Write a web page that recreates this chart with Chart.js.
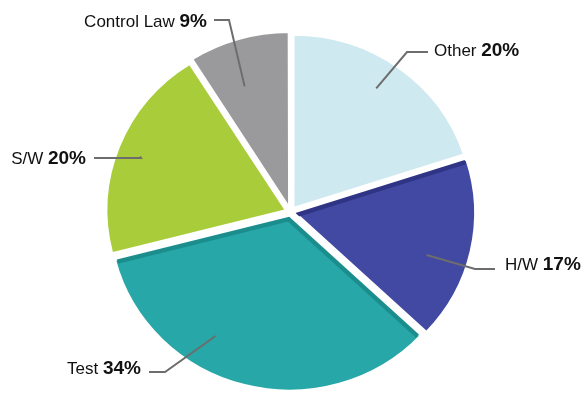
<!DOCTYPE html>
<html>
<head>
<meta charset="utf-8">
<title>Effort by area</title>
<script src="https://cdn.jsdelivr.net/npm/chart.js@4.4.1/dist/chart.umd.min.js"></script>
<style>
  html, body { margin: 0; padding: 0; background: #fff; }
  #wrap { width: 581px; height: 395px; }
</style>
</head>
<body>
<div id="wrap"><canvas id="pieChart" width="581" height="395"></canvas></div>
<script>
// data
const categories = ['Other', 'H/W', 'Test', 'S/W', 'Control Law'];
const shares = [20, 17, 34, 20, 9];
const sliceColors = ['#cfe9f0', '#4249a2', '#27a7a7', '#a8cc3a', '#9a9a9c'];

// darker bevel along slice edges: [start edge, end edge], null = none
const edgeShades = [
    [null, null],
    ['#2f3485', null],
    ['#1c8d8d', '#1c8d8d'],
    [null, null],
    [null, null]
];

// where each callout sits: point inside the slice (angle fraction, radius fraction),
// elbow of the leader line, end of the line, and the text anchor
const callouts = [
    { t: 0.47, r: 0.86, elbow: [407, 52], end: [428, 52], text: [434, 51], align: 'left' },
    { t: 0.59, r: 0.80, elbow: [475, 269], end: [495, 269], text: [505, 265], align: 'left' },
    { t: 0.63, r: 0.83, elbow: [165, 372], end: [149, 372], text: [141, 369], align: 'right' },
    { t: 0.49, r: 0.90, elbow: [141, 158], end: [94, 158], text: [86, 159], align: 'right' },
    { t: 0.40, r: 0.77, elbow: [229, 20], end: [214, 20], text: [207, 22], align: 'right' }
];

const SLICE_OFFSET = 20; // chart.js arcs move offset/4 px
const STRETCH_X = 1.017; // pie is a touch wider than tall
const STRETCH_Y = 0.983;

function pieCenter(chart) {
    const a = chart.getDatasetMeta(0).data[0];
    return [a.x, a.y];
}

// stretches the pie and adds a shaded strip on some slice edges
const pieShapePlugin = {
    id: 'pieShape',
    beforeDatasetsDraw(chart) {
        const ctx = chart.ctx;
        const [cx, cy] = pieCenter(chart);
        ctx.save();
        ctx.translate(cx, cy);
        ctx.scale(STRETCH_X, STRETCH_Y);
        ctx.translate(-cx, -cy);
    },
    afterDatasetsDraw(chart) {
        const ctx = chart.ctx;
        chart.getDatasetMeta(0).data.forEach((arc, i) => {
            const p = arc.getProps(['x', 'y', 'startAngle', 'endAngle', 'outerRadius']);
            const mid = (p.startAngle + p.endAngle) / 2;
            const off = SLICE_OFFSET / 4;
            const cx = p.x + Math.cos(mid) * off;
            const cy = p.y + Math.sin(mid) * off;
            const r = p.outerRadius - 1;
            ctx.save();
            ctx.beginPath();
            ctx.moveTo(cx, cy);
            ctx.arc(cx, cy, r, p.startAngle, p.endAngle);
            ctx.closePath();
            ctx.clip();
            [p.startAngle, p.endAngle].forEach((ang, k) => {
                const col = edgeShades[i][k];
                if (!col) return;
                ctx.strokeStyle = col;
                ctx.lineWidth = 9;
                ctx.beginPath();
                ctx.moveTo(cx, cy);
                ctx.lineTo(cx + Math.cos(ang) * (r + 10), cy + Math.sin(ang) * (r + 10));
                ctx.stroke();
            });
            ctx.restore();
        });
        ctx.restore();
    }
};

// draws the leader lines and "Name NN%" labels
const calloutPlugin = {
    id: 'callouts',
    afterDraw(chart) {
        const ctx = chart.ctx;
        const arcs = chart.getDatasetMeta(0).data;
        ctx.save();
        arcs.forEach((arc, i) => {
            const c = callouts[i];
            const p = arc.getProps(['x', 'y', 'startAngle', 'endAngle', 'outerRadius']);
            const a = p.startAngle + (p.endAngle - p.startAngle) * c.t;
            const ax = p.x + Math.cos(a) * p.outerRadius * c.r * STRETCH_X;
            const ay = p.y + Math.sin(a) * p.outerRadius * c.r * STRETCH_Y;

            ctx.strokeStyle = '#6d6d6d';
            ctx.lineWidth = 2;
            ctx.beginPath();
            ctx.moveTo(ax, ay);
            ctx.lineTo(c.elbow[0], c.elbow[1]);
            ctx.lineTo(c.end[0], c.end[1]);
            ctx.stroke();

            const name = categories[i] + ' ';
            const pct = shares[i] + '%';
            ctx.textBaseline = 'middle';
            ctx.fillStyle = '#111';
            ctx.font = '17px "Liberation Sans", Arial, sans-serif';
            const wName = ctx.measureText(name).width;
            ctx.font = 'bold 19px "Liberation Sans", Arial, sans-serif';
            const wPct = ctx.measureText(pct).width;
            let x = c.text[0];
            if (c.align === 'right') x -= wName + wPct;
            ctx.textAlign = 'left';
            ctx.font = '17px "Liberation Sans", Arial, sans-serif';
            ctx.fillText(name, x, c.text[1]);
            ctx.font = 'bold 19px "Liberation Sans", Arial, sans-serif';
            ctx.fillText(pct, x + wName, c.text[1]);
        });
        ctx.restore();
    }
};

const ctx = document.getElementById('pieChart').getContext('2d');
const chart = new Chart(ctx, {
    type: 'pie',
    data: {
        labels: categories,
        datasets: [{
            data: shares,
            backgroundColor: sliceColors,
            borderColor: '#ffffff',
            borderWidth: 2,
            offset: SLICE_OFFSET
        }]
    },
    options: {
        responsive: false,
        animation: false,
        radius: 176,
        layout: { padding: { top: 29, bottom: 0, left: 0, right: 0 } },
        plugins: {
            legend: { display: false },
            tooltip: { enabled: false }
        }
    },
    plugins: [pieShapePlugin, calloutPlugin]
});
</script>
</body>
</html>
